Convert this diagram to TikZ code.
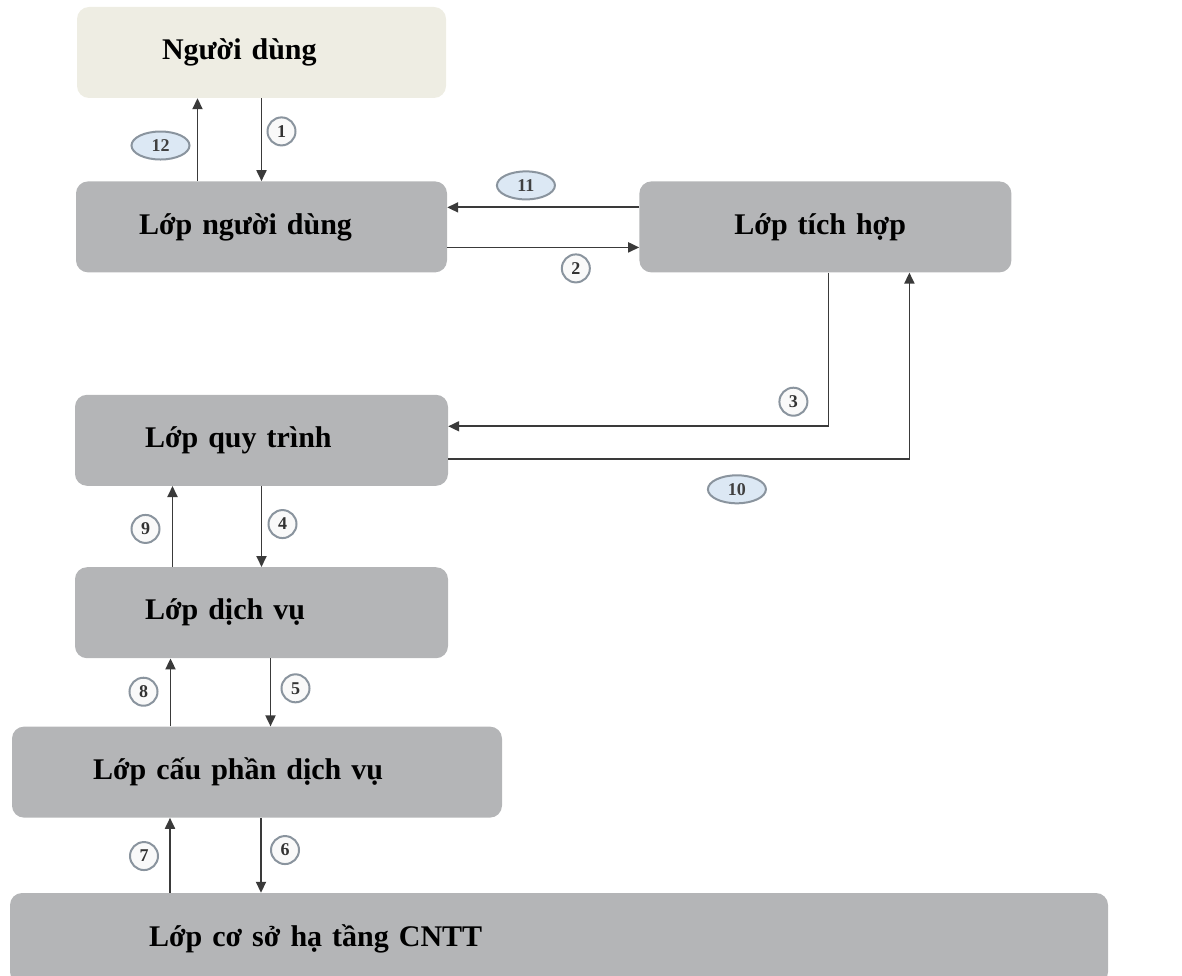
\documentclass[tikz,border=0pt]{standalone}
\usepackage{fontspec}
\setmainfont{Liberation Serif}
\usetikzlibrary{shapes.geometric, arrows.meta, positioning}
\definecolor{layergray}{HTML}{B4B5B7}
\definecolor{userbeige}{HTML}{EEEDE3}
\definecolor{ovalblue}{HTML}{DCE8F4}
\definecolor{ringgray}{HTML}{8A949E}
\definecolor{linegray}{HTML}{3A3A3A}
\tikzstyle{layer} = [rectangle, rounded corners=12pt, minimum height=91pt, align=left, fill=layergray, font=\fontsize{30}{36}\selectfont\bfseries]
\tikzstyle{arrow} = [line width=1.8pt, draw=linegray, ->, >={Triangle[length=11pt, width=10pt]}]
\tikzstyle{stepnum} = [circle, minimum size=28pt, inner sep=0pt, draw=ringgray, line width=2pt, fill=gray!5, font=\fontsize{18}{18}\selectfont\bfseries, text=black!80]
\tikzstyle{stepoval} = [ellipse, minimum width=58pt, minimum height=28pt, inner sep=0pt, draw=ringgray, line width=2pt, fill=ovalblue, font=\fontsize{18}{18}\selectfont\bfseries, text=black!75]
\begin{document}
\begin{tikzpicture}[x=1pt, y=-1pt]
  \useasboundingbox (0,0) rectangle (1182,976);

  \node[layer, fill=userbeige, inner xsep=85pt, text width=199pt] (nd) at (261.5,52.5) {Người dùng};
  \node[layer, inner xsep=63pt, text width=245pt, below=83pt of nd] (lnd) {Lớp người dùng};
  \node[layer, inner xsep=95pt, text width=182pt, right=192pt of lnd] (lth) {Lớp tích hợp};
  \node[layer, inner xsep=70pt, text width=233pt, below=122pt of lnd] (lqt) {Lớp quy trình};
  \node[layer, inner xsep=70pt, text width=233pt, below=81pt of lqt] (ldv) {Lớp dịch vụ};
  \node[layer, inner xsep=81pt, text width=328pt, below=68pt of ldv, xshift=-4.5pt] (lcp) {Lớp cấu phần dịch vụ};
  \node[layer, inner xsep=139pt, text width=820pt, below=75pt of lcp.south west, anchor=north west, xshift=-2pt] (lcs) {Lớp cơ sở hạ tầng CNTT};

  \draw[arrow] (nd.south) -- node[stepnum, pos=0.4, xshift=20pt] (s1) {1} (nd.south |- lnd.north);
  \draw[arrow] ([xshift=-64pt]lnd.north) -- node[stepoval, pos=0.43, xshift=-37pt] (s12) {12} ([xshift=-64pt]lnd.north |- nd.south);
  \draw[arrow] ([yshift=19.5pt]lth.west) -- node[stepoval, pos=0.59, yshift=22pt] (s11) {11} ([yshift=19.5pt]lth.west -| lnd.east);
  \draw[arrow] ([yshift=-20.5pt]lnd.east) -- node[stepnum, pos=0.67, yshift=-21pt] (s2) {2} ([yshift=-20.5pt]lnd.east -| lth.west);
  \draw[arrow] ([xshift=3pt]lth.south) |- node[stepnum, pos=0.42, xshift=-35pt] (s3) {3} ([yshift=14pt]lqt.east);
  \draw[arrow] ([yshift=-19pt]lqt.east) -| node[stepoval, pos=0.313, yshift=-30pt] (s10) {10} ([xshift=84pt]lth.south);
  \draw[arrow] (lqt.south) -- node[stepnum, pos=0.47, xshift=21pt] (s4) {4} (ldv.north);
  \draw[arrow] ([xshift=-89pt]ldv.north) -- node[stepnum, pos=0.47, xshift=-27pt] (s9) {9} ([xshift=-89pt]ldv.north |- lqt.south);
  \draw[arrow] ([xshift=9pt]ldv.south) -- node[stepnum, pos=0.44, xshift=25pt] (s5) {5} ([xshift=9pt]ldv.south |- lcp.north);
  \draw[arrow] ([xshift=-91pt]ldv.south |- lcp.north) -- node[stepnum, pos=0.51, xshift=-27pt] (s8) {8} ([xshift=-91pt]ldv.south);
  \draw[arrow] ([xshift=4pt]lcp.south) -- node[stepnum, pos=0.43, xshift=24pt] (s6) {6} ([xshift=4pt]lcp.south |- lcs.north);
  \draw[arrow] ([xshift=-87pt]lcp.south |- lcs.north) -- node[stepnum, pos=0.49, xshift=-26pt] (s7) {7} ([xshift=-87pt]lcp.south);
\end{tikzpicture}
\end{document}
